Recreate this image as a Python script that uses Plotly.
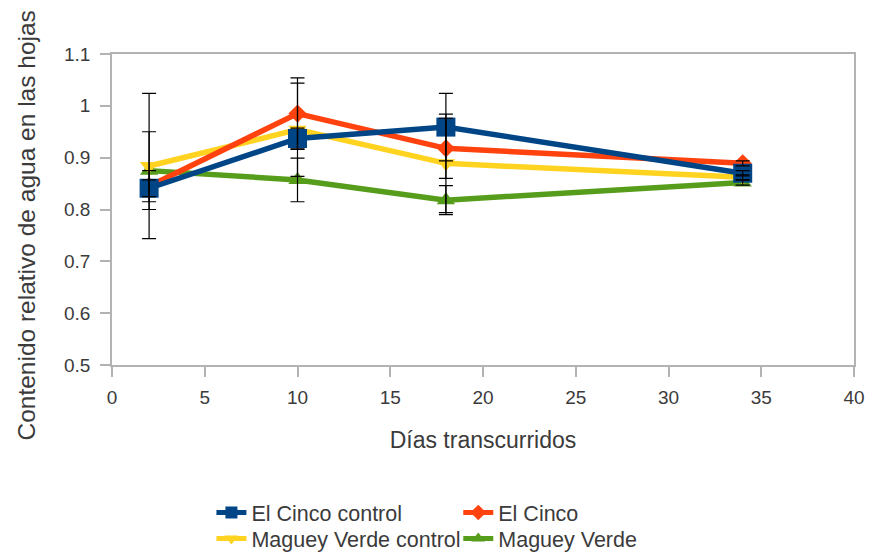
import plotly.graph_objects as go

dias = [2, 10, 18, 34]

series_names = ["El Cinco control", "El Cinco", "Maguey Verde control", "Maguey Verde"]
el_cinco_control = [0.841, 0.937, 0.959, 0.870]
el_cinco = [0.845, 0.985, 0.918, 0.889]
maguey_verde_control = [0.884, 0.954, 0.889, 0.862]
maguey_verde = [0.875, 0.857, 0.818, 0.852]

err_el_cinco_control = [0.016, 0.020, 0.065, 0.005]
err_el_cinco = [0.030, 0.069, 0.058, 0.005]
err_maguey_verde_control = [0.140, 0.090, 0.095, 0.005]
err_maguey_verde = [0.075, 0.042, 0.028, 0.005]

x_title = "Días transcurridos"
y_title = "Contenido relativo de agua en las hojas"

colors = ["#004586", "#ff420e", "#ffd320", "#579d1c"]
symbols = ["square", "diamond", "triangle-down", "triangle-up"]
sizes = [19, 14, 16, 16]
values = [el_cinco_control, el_cinco, maguey_verde_control, maguey_verde]
errors = [err_el_cinco_control, err_el_cinco, err_maguey_verde_control, err_maguey_verde]
legends = ["legend", "legend2", "legend3", "legend4"]

FONT = "Liberation Sans, Arial, sans-serif"
TXT = "#3b3b3b"
GRID = "#b3b3b3"

W, H = 869, 552
ML, MR, MT, MB = 111.5, 15, 54, 187

fig = go.Figure()
order = [3, 2, 1, 0]
for i in order:
    fig.add_trace(go.Scatter(
        x=dias, y=values[i], name=series_names[i], mode="lines+markers",
        line=dict(color=colors[i], width=5.5),
        marker=dict(symbol=symbols[i], size=sizes[i], color=colors[i]),
        legend=legends[i],
    ))
for i in order:
    fig.add_trace(go.Scatter(
        x=dias, y=values[i], mode="markers", showlegend=False,
        marker=dict(size=1, opacity=0),
        error_y=dict(type="data", array=errors[i], color="#000000", thickness=1.2, width=7),
        hoverinfo="skip",
    ))

axis_common = dict(
    showline=True, mirror=True, linecolor=GRID, linewidth=1.5,
    ticks="outside", ticklen=10, tickcolor=GRID, tickwidth=1.5,
    showgrid=False, zeroline=False,
    tickfont=dict(family=FONT, size=19, color=TXT),
)

pw = W - ML - MR
ph = H - MT - MB
def px_to_paper_x(px):
    return (px - ML) / pw
def px_to_paper_y(py):
    return (H - MB - py) / ph

leg_font = dict(family=FONT, size=21.5, color=TXT)
def leg(px, py):
    return dict(x=px_to_paper_x(px), y=px_to_paper_y(py), xanchor="left", yanchor="top",
                bgcolor="rgba(0,0,0,0)", font=leg_font, itemsizing="constant")

fig.update_layout(
    width=W, height=H,
    margin=dict(l=ML, r=MR, t=MT, b=MB, autoexpand=False),
    plot_bgcolor="white", paper_bgcolor="white",
    font=dict(family=FONT, color=TXT),
    xaxis=dict(range=[0, 40], dtick=5, tick0=0, ticklabelstandoff=4,
               title=dict(text=x_title, font=dict(family=FONT, size=23, color=TXT), standoff=25),
               **axis_common),
    yaxis=dict(range=[0.5, 1.1], dtick=0.1, tick0=0.5, ticklabelstandoff=6,
               **axis_common),
    legend=leg(211, 492),
    legend2=leg(458, 492),
    legend3=leg(211, 518),
    legend4=leg(458, 518),
    showlegend=True,
    annotations=[dict(
        text=y_title, textangle=-90, showarrow=False,
        xref="paper", yref="paper",
        x=px_to_paper_x(25), y=px_to_paper_y(226),
        xanchor="center", yanchor="middle",
        font=dict(family=FONT, size=24.5, color=TXT),
    )],
)

fig.write_html(
    "out.html",
    config={"displayModeBar": False},
    post_script="document.body.style.margin='0';document.body.style.overflow='hidden';",
)
